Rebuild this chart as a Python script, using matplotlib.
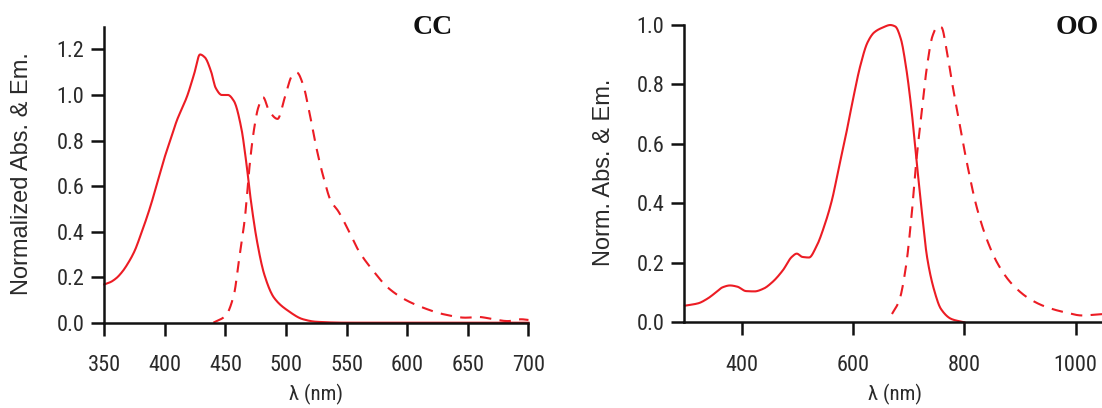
import matplotlib
matplotlib.use("Agg")
import matplotlib.pyplot as plt
from matplotlib import font_manager as fm
import numpy as np

# ---------------- data ----------------
# Panel CC : absorption (solid) and emission (dashed)
cc_abs_wl = [350, 355, 360, 365, 370, 375, 380, 388, 394, 400, 405, 410, 414,
             418, 424, 429, 433, 438, 442, 447, 452, 457, 463, 467, 471, 476,
             482, 490, 502, 514, 525, 550, 600, 650, 700]
cc_abs_val = [0.168, 0.178, 0.196, 0.225, 0.265, 0.315, 0.385, 0.51, 0.62,
              0.73, 0.81, 0.89, 0.94, 0.99, 1.09, 1.178, 1.165, 1.105, 1.03,
              1.00, 1.00, 0.973, 0.856, 0.71, 0.534, 0.358, 0.212, 0.11,
              0.051, 0.015, 0.004, 0.0, 0.0, 0.0, 0.0]

cc_em_wl = [440, 450, 457, 461, 466, 470, 473, 477, 481, 486, 493, 499, 505,
            509, 514, 519, 525, 531, 537, 543, 552, 560, 572, 584, 598, 613,
            630, 648, 659, 671, 683, 694, 700]
cc_em_val = [0.0, 0.03, 0.124, 0.27, 0.46, 0.695, 0.83, 0.944, 0.99, 0.93,
             0.895, 0.99, 1.085, 1.098, 1.046, 0.93, 0.768, 0.636, 0.534, 0.49,
             0.40, 0.315, 0.227, 0.154, 0.102, 0.066, 0.037, 0.022, 0.025,
             0.015, 0.007, 0.015, 0.012]

# Panel OO : absorption (solid) and emission (dashed)
oo_abs_wl = [298, 322, 338, 354, 366, 379, 392, 408, 423, 439, 455, 474, 490,
             499, 509, 521, 534, 550, 562, 575, 588, 600, 613, 626, 638, 654,
             667, 676, 686, 695, 705, 714, 724, 733, 746, 758, 777, 800]
oo_abs_val = [0.056, 0.064, 0.079, 0.101, 0.118, 0.124, 0.12, 0.105, 0.104,
              0.113, 0.135, 0.175, 0.22, 0.231, 0.22, 0.218, 0.254, 0.333,
              0.41, 0.524, 0.637, 0.75, 0.862, 0.941, 0.975, 0.992, 1.0, 0.995,
              0.953, 0.862, 0.716, 0.547, 0.366, 0.22, 0.107, 0.045, 0.011, 0.0]

oo_em_wl = [670, 683, 695, 705, 714, 724, 733, 743, 752, 759, 768, 778, 790,
            806, 822, 841, 860, 885, 917, 948, 980, 1012, 1037, 1070, 1100]
oo_em_val = [0.028, 0.073, 0.186, 0.355, 0.547, 0.716, 0.862, 0.964, 0.995,
             0.992, 0.919, 0.806, 0.682, 0.524, 0.389, 0.276, 0.197, 0.13,
             0.079, 0.051, 0.034, 0.023, 0.026, 0.03, 0.03]

cc_xticks = [350, 400, 450, 500, 550, 600, 650, 700]
cc_yticks = [0.0, 0.2, 0.4, 0.6, 0.8, 1.0, 1.2]
oo_xticks = [400, 600, 800, 1000]
oo_yticks = [0.0, 0.2, 0.4, 0.6, 0.8, 1.0]

# ---------------- fonts ----------------
def pick(cands):
    for c in cands:
        try:
            fm.findfont(fm.FontProperties(family=c), fallback_to_default=False)
            return c
        except Exception:
            pass
    return "DejaVu Sans"

narrow = pick(["Liberation Sans Narrow", "Arial Narrow", "Roboto Condensed",
               "Liberation Sans"])
regular = pick(["Liberation Sans", "Arial", "DejaVu Sans"])
serif = pick(["Liberation Serif", "DejaVu Serif"])

RED = "#ec1c24"
TXT = "#2a2a2a"

fig = plt.figure(figsize=(11.02, 4.08), dpi=100)

def smooth(x, y, n=700):
    x = np.asarray(x, float); y = np.asarray(y, float)
    h = np.diff(x); d = np.diff(y) / h
    m = np.zeros_like(y)
    for k in range(1, len(x) - 1):
        if d[k - 1] * d[k] > 0:
            w1 = 2 * h[k] + h[k - 1]; w2 = h[k] + 2 * h[k - 1]
            m[k] = (w1 + w2) / (w1 / d[k - 1] + w2 / d[k])
    m[0] = d[0]; m[-1] = d[-1]
    xs = np.linspace(x[0], x[-1], n)
    idx = np.clip(np.searchsorted(x, xs) - 1, 0, len(x) - 2)
    t = (xs - x[idx]) / h[idx]
    h00 = 2*t**3 - 3*t**2 + 1; h10 = t**3 - 2*t**2 + t
    h01 = -2*t**3 + 3*t**2; h11 = t**3 - t**2
    ys = h00*y[idx] + h10*h[idx]*m[idx] + h01*y[idx+1] + h11*h[idx]*m[idx+1]
    return xs, ys

def style(ax, xticks, yticks, xlim, ylim, ylabel, xlabel_x, ylabel_x):
    ax.set_xlim(*xlim); ax.set_ylim(*ylim)
    for s in ("top", "right"):
        ax.spines[s].set_visible(False)
    for s in ("left", "bottom"):
        ax.spines[s].set_linewidth(1.8)
        ax.spines[s].set_color("#111111")
    ax.set_xticks(xticks)
    ax.set_yticks(yticks)
    ax.set_yticklabels([f"{v:.1f}" for v in yticks])
    ax.tick_params(direction="out", length=9.5, width=1.8, color="#111111",
                   labelsize=16, labelcolor=TXT)
    ax.tick_params(axis="x", pad=14)
    ax.tick_params(axis="y", pad=5)
    for lab in ax.get_xticklabels() + ax.get_yticklabels():
        lab.set_family(narrow)
    ax.set_ylabel(ylabel, fontsize=17, family=regular, color=TXT)
    ax.set_xlabel("λ (nm)", fontsize=15, family=[narrow, "DejaVu Sans"], color=TXT)
    ax.xaxis.set_label_coords(xlabel_x, -0.207)
    ax.yaxis.set_label_coords(ylabel_x, 0.503)
    ax.patch.set_alpha(0)

# ---- left panel ----
ax1 = fig.add_axes([0.09465, 0.2091, 0.3849, 0.7255])
x, y = smooth(cc_abs_wl, cc_abs_val)
ax1.plot(x, y, color=RED, lw=1.5, clip_on=False)
x, y = smooth(cc_em_wl, cc_em_val)
ax1.plot(x, y, color=RED, lw=1.5, dashes=(5.5, 4), clip_on=False)
style(ax1, cc_xticks, cc_yticks, (350, 700), (0, 1.3),
      "Normalized Abs. & Em.", 0.5, -0.168)
ax1.text(620.7, 1.296, "CC", fontsize=20, fontweight="bold", family=serif,
         ha="center", va="center", color="#111111")

# ---- right panel ----
ax2 = fig.add_axes([0.6210, 0.2100, 0.4056, 0.7287])
x, y = smooth(oo_abs_wl, oo_abs_val)
ax2.plot(x, y, color=RED, lw=1.5, clip_on=False)
x, y = smooth(oo_em_wl, oo_em_val)
ax2.plot(x, y, color=RED, lw=1.5, dashes=(5.5, 4), clip_on=False)
style(ax2, oo_xticks, oo_yticks, (297, 1100), (0, 1.0),
      "Norm. Abs. & Em.", (895 - 684.4) / 447.0, -0.155)
ax2.text(1003, 0.993, "OO", fontsize=20, fontweight="bold",
         family=serif, ha="center", va="center", color="#111111")

fig.savefig("out.png", dpi=100)
